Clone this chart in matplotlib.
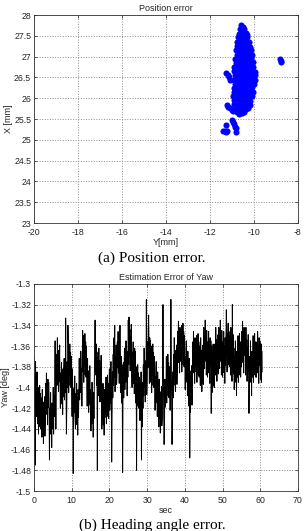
import numpy as np
import matplotlib
matplotlib.use("Agg")
import matplotlib.pyplot as plt
from matplotlib.ticker import FormatStrFormatter

plt.rcParams['font.family'] = ['Liberation Sans', 'DejaVu Sans']
plt.rcParams['axes.unicode_minus'] = False
plt.rcParams['path.simplify'] = False

# position error cloud, Y[mm] (horizontal) and X[mm] (vertical), written row by row
pos_y = [
    -10.57, -10.51,
    -10.63, -10.53, -10.45,
    -10.68, -10.60, -10.48, -10.38, -10.31,
    -10.74, -10.62, -10.55, -10.43, -10.33,
    -10.78, -10.66, -10.50, -10.41, -10.29, -10.23,
    -10.75, -10.63, -10.57, -10.45, -10.35, -10.19,
    -10.81, -10.70, -10.53, -10.47, -10.31, -10.15,
    -10.79, -10.68, -10.60, -10.44, -10.37, -10.24, -10.11,
    -10.86, -10.73, -10.62, -10.50, -10.34, -10.26, -10.13,
    -10.84, -10.77, -10.61, -10.52, -10.40, -10.27, -10.16, -10.05,
    -10.89, -10.74, -10.66, -10.50, -10.42, -10.30, -10.14, -10.03,
    -10.91, -10.80, -10.64, -10.57, -10.41, -10.32, -10.19, -10.08, -9.97,
    -10.88, -10.76, -10.68, -10.52, -10.44, -10.28, -10.17, -10.05, -9.94,
    -10.92, -10.79, -10.63, -10.55, -10.40, -10.31, -10.20, -10.07, -9.95,
    -10.87, -10.77, -10.67, -10.53, -10.43, -10.29, -10.16, -10.04, -9.99,
    -10.93, -10.81, -10.66, -10.57, -10.45, -10.33, -10.21, -10.09,
    -10.90, -10.78, -10.69, -10.54, -10.42, -10.30, -10.18, -10.06,
    -10.94, -10.82, -10.67, -10.58, -10.46, -10.34, -10.22, -10.07,
    -10.89, -10.77, -10.65, -10.55, -10.41, -10.29, -10.17,
    -10.91, -10.75, -10.63, -10.51, -10.39, -10.27, -10.19,
    -10.85, -10.73, -10.61, -10.49, -10.37, -10.29,
    -10.79, -10.67, -10.55, -10.44,
    # outliers
    -8.82, -8.78, -8.75,
    -11.26, -11.20, -11.14, -11.08,
    -11.24, -11.16, -11.08, -11.00, -10.95,
    -10.98, -10.94, -10.90, -10.86, -10.83,
    -11.40, -11.34, -11.27, -11.22,
    -11.28, -10.82,
]
pos_x = [
    27.76, 27.72,
    27.66, 27.63, 27.67,
    27.55, 27.57, 27.53, 27.56, 27.52,
    27.46, 27.44, 27.47, 27.43, 27.46,
    27.35, 27.37, 27.34, 27.36, 27.33, 27.36,
    27.25, 27.23, 27.27, 27.24, 27.26, 27.22,
    27.15, 27.17, 27.14, 27.16, 27.13, 27.15,
    27.05, 27.03, 27.06, 27.04, 27.07, 27.05, 27.03,
    26.95, 26.97, 26.94, 26.96, 26.93, 26.97, 26.94,
    26.85, 26.83, 26.86, 26.84, 26.87, 26.85, 26.83, 26.86,
    26.75, 26.77, 26.74, 26.76, 26.73, 26.77, 26.74, 26.76,
    26.65, 26.63, 26.66, 26.64, 26.67, 26.65, 26.63, 26.66, 26.64,
    26.55, 26.57, 26.54, 26.56, 26.53, 26.57, 26.54, 26.56, 26.55,
    26.45, 26.43, 26.46, 26.44, 26.47, 26.45, 26.43, 26.46, 26.44,
    26.35, 26.37, 26.34, 26.36, 26.33, 26.37, 26.34, 26.36, 26.35,
    26.25, 26.23, 26.26, 26.24, 26.27, 26.25, 26.23, 26.26,
    26.15, 26.17, 26.14, 26.16, 26.13, 26.17, 26.14, 26.16,
    26.05, 26.03, 26.06, 26.04, 26.07, 26.05, 26.03, 26.06,
    25.95, 25.97, 25.94, 25.96, 25.93, 25.97, 25.94,
    25.85, 25.83, 25.86, 25.84, 25.87, 25.85, 25.83,
    25.75, 25.77, 25.74, 25.76, 25.73, 25.76,
    25.66, 25.63, 25.65, 25.67,
    # outliers
    26.94, 26.90, 26.86,
    26.60, 26.55, 26.50, 26.45,
    25.84, 25.80, 25.76, 25.72, 25.69,
    25.47, 25.42, 25.37, 25.32, 25.28,
    25.22, 25.21, 25.20, 25.22,
    25.36, 25.20,
]

# yaw estimation error [deg], one sample every 0.1 s (one row = 1 s)
yaw_dt = 0.1
yaw = [
    -1.370, -1.420, -1.390, -1.475, -1.375, -1.412, -1.392, -1.428, -1.385, -1.410,
    -1.435, -1.400, -1.445, -1.408, -1.428, -1.398, -1.438, -1.406, -1.440, -1.410,
    -1.418, -1.448, -1.402, -1.440, -1.414, -1.454, -1.421, -1.444, -1.409, -1.447,
    -1.430, -1.396, -1.421, -1.386, -1.426, -1.400, -1.436, -1.392, -1.419, -1.395,
    -1.412, -1.470, -1.420, -1.445, -1.405, -1.442, -1.422, -1.458, -1.415, -1.440,
    -1.435, -1.400, -1.445, -1.408, -1.428, -1.398, -1.355, -1.406, -1.440, -1.410,
    -1.368, -1.398, -1.352, -1.390, -1.364, -1.404, -1.371, -1.394, -1.359, -1.397,
    -1.420, -1.386, -1.411, -1.376, -1.416, -1.390, -1.426, -1.382, -1.409, -1.385,
    -1.372, -1.412, -1.380, -1.405, -1.333, -1.402, -1.445, -1.418, -1.375, -1.400,
    -1.340, -1.360, -1.405, -1.368, -1.388, -1.358, -1.398, -1.366, -1.400, -1.370,
    -1.398, -1.428, -1.382, -1.420, -1.483, -1.434, -1.401, -1.424, -1.389, -1.427,
    -1.440, -1.406, -1.431, -1.396, -1.436, -1.410, -1.446, -1.402, -1.429, -1.405,
    -1.372, -1.412, -1.380, -1.405, -1.365, -1.402, -1.382, -1.418, -1.375, -1.345,
    -1.385, -1.350, -1.395, -1.358, -1.378, -1.348, -1.388, -1.356, -1.390, -1.360,
    -1.388, -1.418, -1.372, -1.410, -1.384, -1.424, -1.391, -1.414, -1.379, -1.417,
    -1.402, -1.442, -1.410, -1.435, -1.395, -1.432, -1.412, -1.448, -1.405, -1.430,
    -1.395, -1.360, -1.335, -1.368, -1.388, -1.358, -1.398, -1.366, -1.480, -1.370,
    -1.378, -1.408, -1.362, -1.400, -1.374, -1.414, -1.381, -1.404, -1.369, -1.407,
    -1.440, -1.406, -1.431, -1.396, -1.436, -1.410, -1.446, -1.402, -1.429, -1.405,
    -1.425, -1.390, -1.435, -1.398, -1.418, -1.388, -1.428, -1.396, -1.430, -1.400,
    -1.382, -1.422, -1.390, -1.415, -1.375, -1.412, -1.472, -1.428, -1.385, -1.410,
    -1.368, -1.398, -1.352, -1.390, -1.340, -1.404, -1.371, -1.394, -1.359, -1.397,
    -1.390, -1.356, -1.381, -1.346, -1.386, -1.360, -1.396, -1.352, -1.340, -1.355,
    -1.405, -1.370, -1.415, -1.378, -1.398, -1.482, -1.408, -1.376, -1.410, -1.380,
    -1.362, -1.402, -1.370, -1.395, -1.355, -1.392, -1.372, -1.408, -1.365, -1.390,
    -1.335, -1.378, -1.332, -1.370, -1.344, -1.384, -1.351, -1.374, -1.339, -1.377,
    -1.400, -1.366, -1.391, -1.356, -1.396, -1.370, -1.406, -1.362, -1.389, -1.365,
    -1.415, -1.380, -1.480, -1.388, -1.408, -1.378, -1.418, -1.386, -1.420, -1.390,
    -1.392, -1.432, -1.400, -1.425, -1.385, -1.470, -1.402, -1.438, -1.395, -1.420,
    -1.378, -1.408, -1.362, -1.400, -1.374, -1.414, -1.381, -1.404, -1.315, -1.407,
    -1.390, -1.356, -1.381, -1.346, -1.330, -1.360, -1.396, -1.352, -1.379, -1.355,
    -1.395, -1.360, -1.405, -1.368, -1.388, -1.358, -1.398, -1.366, -1.400, -1.370,
    -1.382, -1.422, -1.390, -1.415, -1.375, -1.412, -1.392, -1.428, -1.385, -1.410,
    -1.408, -1.438, -1.392, -1.430, -1.404, -1.444, -1.411, -1.434, -1.399, -1.437,
    -1.430, -1.396, -1.320, -1.386, -1.426, -1.455, -1.436, -1.392, -1.419, -1.395,
    -1.405, -1.370, -1.415, -1.378, -1.398, -1.368, -1.408, -1.376, -1.410, -1.380,
    -1.382, -1.422, -1.390, -1.315, -1.375, -1.412, -1.455, -1.428, -1.385, -1.410,
    -1.368, -1.398, -1.352, -1.390, -1.364, -1.404, -1.371, -1.394, -1.359, -1.397,
    -1.380, -1.346, -1.371, -1.336, -1.376, -1.350, -1.386, -1.342, -1.369, -1.345,
    -1.375, -1.340, -1.385, -1.348, -1.368, -1.338, -1.378, -1.346, -1.380, -1.350,
    -1.362, -1.402, -1.370, -1.395, -1.355, -1.392, -1.372, -1.408, -1.365, -1.390,
    -1.388, -1.418, -1.372, -1.468, -1.384, -1.424, -1.391, -1.414, -1.379, -1.417,
    -1.390, -1.356, -1.381, -1.346, -1.386, -1.360, -1.396, -1.352, -1.379, -1.355,
    -1.385, -1.350, -1.395, -1.358, -1.378, -1.348, -1.388, -1.356, -1.390, -1.360,
    -1.368, -1.398, -1.352, -1.390, -1.364, -1.404, -1.371, -1.394, -1.359, -1.397,
    -1.342, -1.382, -1.350, -1.375, -1.335, -1.372, -1.352, -1.388, -1.345, -1.370,
    -1.390, -1.356, -1.381, -1.346, -1.386, -1.360, -1.396, -1.352, -1.379, -1.355,
    -1.425, -1.360, -1.405, -1.368, -1.388, -1.358, -1.398, -1.366, -1.400, -1.370,
    -1.358, -1.388, -1.342, -1.380, -1.354, -1.394, -1.361, -1.384, -1.349, -1.387,
    -1.342, -1.382, -1.350, -1.375, -1.335, -1.372, -1.352, -1.388, -1.345, -1.370,
    -1.390, -1.356, -1.381, -1.346, -1.386, -1.360, -1.396, -1.352, -1.379, -1.355,
    -1.325, -1.340, -1.385, -1.348, -1.368, -1.338, -1.378, -1.346, -1.380, -1.350,
    -1.358, -1.388, -1.342, -1.380, -1.354, -1.394, -1.320, -1.384, -1.349, -1.387,
    -1.362, -1.402, -1.370, -1.395, -1.355, -1.392, -1.372, -1.408, -1.365, -1.390,
    -1.385, -1.350, -1.395, -1.358, -1.378, -1.348, -1.388, -1.356, -1.390, -1.360,
    -1.380, -1.346, -1.371, -1.336, -1.376, -1.350, -1.386, -1.342, -1.369, -1.345,
    -1.358, -1.388, -1.342, -1.380, -1.354, -1.394, -1.361, -1.384, -1.349, -1.387,
    -1.425, -1.402, -1.370, -1.395, -1.355, -1.392, -1.372, -1.408, -1.365, -1.390,
    -1.385, -1.350, -1.395, -1.358, -1.378, -1.348, -1.388, -1.356, -1.390, -1.360,
    -1.390, -1.356, -1.381, -1.346, -1.386, -1.360, -1.396, -1.352, -1.379, -1.355,
    -1.362, -1.392, -1.358, -1.395, -1.365, -1.385,
]
yaw_t = np.arange(len(yaw)) * yaw_dt


def matlab_axes(ax):
    ax.grid(True, linestyle=':', color='0.55', linewidth=0.7)
    ax.tick_params(direction='in', top=True, right=True, labelsize=6.3,
                   length=2.5, width=0.5, colors='0.15')
    ax.tick_params(axis='x', pad=3.5)
    ax.tick_params(axis='y', pad=2)
    for s in ax.spines.values():
        s.set_linewidth(0.6)
        s.set_color('0.2')


fig = plt.figure(figsize=(3.04, 5.31), dpi=100)

# (a) position error
ax1 = fig.add_axes([0.1118, 0.580, 0.8684, 0.3917])
ax1.plot(pos_y, pos_x, 'o', color='#0000ff', markersize=4.4, markeredgewidth=0)
ax1.set_xlim(-20, -8)
ax1.set_ylim(23, 28)
ax1.set_xticks(np.arange(-20, -7, 2))
ax1.set_yticks(np.arange(23, 28.01, 0.5))
ax1.yaxis.set_major_formatter(FormatStrFormatter('%g'))
matlab_axes(ax1)
ax1.set_title('Position error', fontsize=6.5, pad=3, color='0.15')
ax1.set_xlabel('Y[mm]', fontsize=6.5, labelpad=0.5, color='0.15')
ax1.set_ylabel('X [mm]', fontsize=6.5, labelpad=1, color='0.15')
fig.text(0.5, 0.514, '(a) Position error.', ha='center', va='center',
         fontsize=11, family='Liberation Serif')

# (b) heading angle error
ax2 = fig.add_axes([0.1118, 0.0753, 0.8684, 0.390])
ax2.plot(yaw_t, yaw, color='black', linewidth=0.7)
ax2.set_xlim(0, 70)
ax2.set_ylim(-1.5, -1.3)
ax2.set_xticks(np.arange(0, 71, 10))
ax2.set_yticks(np.arange(-1.5, -1.299, 0.02))
ax2.yaxis.set_major_formatter(FormatStrFormatter('%g'))
matlab_axes(ax2)
ax2.set_title('Estimation Error of Yaw', fontsize=6.5, pad=3, color='0.15')
ax2.set_xlabel('sec', fontsize=6.5, labelpad=0.5, color='0.15')
ax2.set_ylabel('Yaw [deg]', fontsize=6.5, labelpad=1, color='0.15')
fig.text(0.5, 0.011, '(b) Heading angle error.', ha='center', va='center',
         fontsize=11, family='Liberation Serif')

fig.savefig('out.png', dpi=100)
